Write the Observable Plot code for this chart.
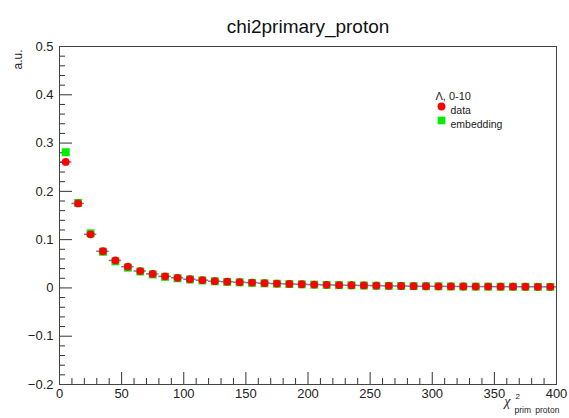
<!DOCTYPE html>
<html>
<head>
<meta charset="utf-8">
<script src="https://cdn.jsdelivr.net/npm/d3@7"></script>
<script src="https://cdn.jsdelivr.net/npm/@observablehq/plot@0.6"></script>
<style>
  html, body { margin: 0; padding: 0; background: #fff; }
  #chart svg { display: block; }
</style>
</head>
<body>
<div id="chart"></div>
<script>
// ---- data ----
const title = "chi2primary_proton";
const yLabel = "a.u.";
const legendHeader = "\u039b, 0-10";
const seriesNames = ["data", "embedding"];
const binWidth = 10;
const binCenters = [5, 15, 25, 35, 45, 55, 65, 75, 85, 95,
  105, 115, 125, 135, 145, 155, 165, 175, 185, 195,
  205, 215, 225, 235, 245, 255, 265, 275, 285, 295,
  305, 315, 325, 335, 345, 355, 365, 375, 385, 395];
const dataValues = [0.261, 0.175, 0.111, 0.076, 0.057, 0.044, 0.035, 0.029, 0.024, 0.021,
  0.018, 0.016, 0.014, 0.013, 0.012, 0.011, 0.0098, 0.0090, 0.0083, 0.0076,
  0.0070, 0.0064, 0.0059, 0.0055, 0.0051, 0.0047, 0.0043, 0.0040, 0.0037, 0.0035,
  0.0033, 0.0031, 0.0030, 0.0028, 0.0027, 0.0026, 0.0025, 0.0024, 0.0023, 0.0022];
const embeddingValues = [0.281, 0.176, 0.113, 0.075, 0.055, 0.042, 0.034, 0.028, 0.023, 0.020,
  0.0175, 0.0155, 0.0137, 0.0125, 0.0115, 0.0105, 0.0095, 0.0087, 0.0080, 0.0074,
  0.0068, 0.0062, 0.0058, 0.0054, 0.0050, 0.0046, 0.0043, 0.0040, 0.0037, 0.0035,
  0.0033, 0.0031, 0.0029, 0.0028, 0.0027, 0.0026, 0.0025, 0.0024, 0.0023, 0.0022];
const xTickLabels = [0, 50, 100, 150, 200, 250, 300, 350, 400];
const xMinorTicks = [10, 20, 30, 40, 60, 70, 80, 90, 110, 120, 130, 140, 160, 170, 180, 190,
  210, 220, 230, 240, 260, 270, 280, 290, 310, 320, 330, 340, 360, 370, 380, 390];
const yTickLabels = [-0.2, -0.1, 0, 0.1, 0.2, 0.3, 0.4, 0.5];
const yMinorTicks = [-0.18, -0.16, -0.14, -0.12, -0.08, -0.06, -0.04, -0.02,
  0.02, 0.04, 0.06, 0.08, 0.12, 0.14, 0.16, 0.18, 0.22, 0.24, 0.26, 0.28,
  0.32, 0.34, 0.36, 0.38, 0.42, 0.44, 0.46, 0.48];

// ---- tables built from the arrays ----
const dataRows = binCenters.map((x, i) => ({x, v: dataValues[i]}));
const embRows = binCenters.map((x, i) => ({x, v: embeddingValues[i]}));

const W = 569, H = 418;
const mL = 59, mR = 13, mT = 46, mB = 34;
const fw = W - mL - mR, fh = H - mT - mB;
const font = "Liberation Sans, Arial, Helvetica, sans-serif";

const chart = Plot.plot({
  width: W,
  height: H,
  marginLeft: mL,
  marginRight: mR,
  marginTop: mT,
  marginBottom: mB,
  style: {fontFamily: font, background: "#fff"},
  x: {domain: [0, 400]},
  y: {domain: [-0.2, 0.5]},
  marks: [
    // axis labels (numbers)
    Plot.axisX({ticks: xTickLabels, tickSize: 0, tickPadding: 4, fontSize: 13, label: null, fill: "#222"}),
    Plot.axisY({ticks: yTickLabels, tickSize: 0, tickPadding: 6, fontSize: 13, label: null, fill: "#222",
      tickFormat: d => d === 0 ? "0" : d3.format(".1f")(d).replace("-", "\u2212")}),
    // inside tick marks (ROOT style)
    Plot.tickX(xTickLabels, {x: d => d, insetTop: fh - 12, stroke: "#333"}),
    Plot.tickX(xMinorTicks, {x: d => d, insetTop: fh - 6, stroke: "#333"}),
    Plot.tickY(yTickLabels, {y: d => d, insetRight: fw - 13, stroke: "#333"}),
    Plot.tickY(yMinorTicks, {y: d => d, insetRight: fw - 6, stroke: "#333"}),
    Plot.frame({stroke: "#444"}),
    // bin-width error bars of data
    Plot.ruleY(dataRows, {y: "v", x1: d => d.x - binWidth / 2, x2: d => d.x + binWidth / 2,
      stroke: "#4a4ab8", strokeOpacity: 0.8, strokeWidth: 1.5}),
    // embedding (green squares) under data (red circles)
    Plot.dot(embRows, {x: "x", y: "v", symbol: "square", r: 4.5, fill: "#00ee00", stroke: "none"}),
    Plot.dot(dataRows, {x: "x", y: "v", symbol: "circle", r: 3.9, fill: "#ff0000", stroke: "none"}),
    // title
    Plot.text([title], {frameAnchor: "top", dy: -27, fontSize: 19, fill: "#111", text: d => d}),
    // y axis title
    Plot.text([yLabel], {frameAnchor: "top-left", dx: -46, dy: 3, rotate: -90, textAnchor: "end", fontSize: 12, fill: "#222", text: d => d}),
    // x axis title: chi^2_{prim proton}
    Plot.text(["\u03c7"], {frameAnchor: "bottom-right", dx: -46, dy: 21, fontSize: 14, fontStyle: "italic", fontFamily: "Liberation Serif, serif", fill: "#222", text: d => d}),
    Plot.text(["2"], {frameAnchor: "bottom-right", dx: -41, dy: 14, fontSize: 8, textAnchor: "start", fill: "#222", text: d => d}),
    Plot.text(["prim\u2002proton"], {frameAnchor: "bottom-right", dx: -42, dy: 28, fontSize: 8.5, textAnchor: "start", fill: "#222", text: d => d}),
    // legend
    Plot.text([legendHeader], {frameAnchor: "top-left", dx: 376, dy: 46, fontSize: 11, textAnchor: "start", fill: "#222", text: d => d}),
    Plot.dot([seriesNames[0]], {frameAnchor: "top-left", dx: 382, dy: 60, r: 3.9, fill: "#ff0000", symbol: "circle"}),
    Plot.text([seriesNames[0]], {frameAnchor: "top-left", dx: 391, dy: 60, fontSize: 10.5, textAnchor: "start", fill: "#222", text: d => d}),
    Plot.dot([seriesNames[1]], {frameAnchor: "top-left", dx: 382, dy: 74, r: 4.3, fill: "#00ee00", symbol: "square"}),
    Plot.text([seriesNames[1]], {frameAnchor: "top-left", dx: 391, dy: 74, fontSize: 10.5, textAnchor: "start", fill: "#222", text: d => d})
  ]
});
document.getElementById("chart").appendChild(chart);
</script>
</body>
</html>
